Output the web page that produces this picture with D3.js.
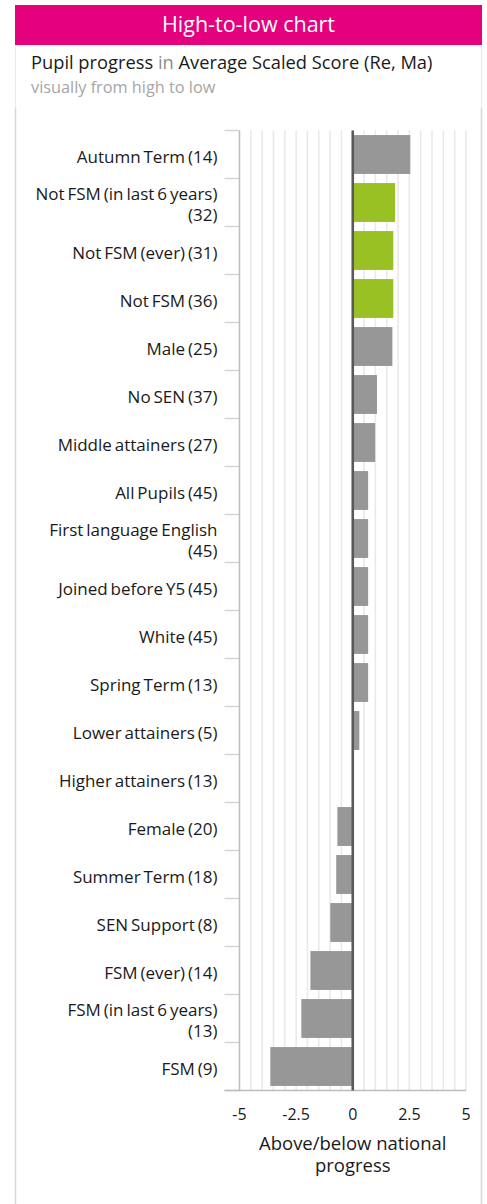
<!DOCTYPE html>
<html>
<head>
<meta charset="utf-8">
<script src="https://cdn.jsdelivr.net/npm/d3@7"></script>
<style>
    body { margin: 0; background: #fff; font-family: 'Open Sans', Lato, sans-serif; }
    .grid-line { stroke: #e8e8e8; stroke-width: 1.5; }
    .cat-tick { stroke: #d4d4d4; stroke-width: 1.5; }
    .axis-line { stroke: #bdbdbd; stroke-width: 1.5; }
    .zero-line { stroke: #595959; stroke-width: 2.6; }
    .cat-label { font-size: 17px; fill: #1a1a1a; word-spacing: -1.5px; }
    .tick-label { font-size: 16px; fill: #1a1a1a; }
    .axis-title { font-size: 18.5px; fill: #1a1a1a; }
</style>
</head>
<body>
<svg id="chart" width="487" height="1204"></svg>
<script>
const categories = [
    'Autumn Term', 'Not FSM (in last 6 years)', 'Not FSM (ever)', 'Not FSM', 'Male',
    'No SEN', 'Middle attainers', 'All Pupils', 'First language English', 'Joined before Y5',
    'White', 'Spring Term', 'Lower attainers', 'Higher attainers', 'Female',
    'Summer Term', 'SEN Support', 'FSM (ever)', 'FSM (in last 6 years)', 'FSM'
]
const counts = [14, 32, 31, 36, 25, 37, 27, 45, 45, 45, 45, 13, 5, 13, 20, 18, 8, 14, 13, 9]
const progress = [2.54, 1.87, 1.79, 1.79, 1.75, 1.07, 0.99, 0.68, 0.68, 0.68, 0.68, 0.68, 0.29, 0, -0.68, -0.73, -0.99, -1.87, -2.27, -3.64]
const highlighted = ['Not FSM (in last 6 years)', 'Not FSM (ever)', 'Not FSM']
const xTicks = [-5, -2.5, 0, 2.5, 5]
const xTickLabels = ['-5', '-2.5', '0', '2.5', '5']

const layout = { left: 239.5, top: 130.5, width: 226.5, height: 960 }
const data = categories.map((c, i) => ({ name: c, n: counts[i], value: progress[i] }))

const svg = d3.select('#chart')

// header panel + chart panel borders
svg.append('path')
    .attr('d', 'M 15.5 107.5 V 5.5 H 481.5 V 107.5')
    .attr('fill', 'none').attr('stroke', '#ebebeb').attr('stroke-width', 1.2)
svg.append('path')
    .attr('d', 'M 15.5 1210 V 107.5 M 481.5 107.5 V 1210')
    .attr('fill', 'none').attr('stroke', '#d8d8d8').attr('stroke-width', 1.5)
svg.append('rect')
    .attr('x', 15).attr('y', 5).attr('width', 467).attr('height', 40)
    .attr('fill', '#e5007d')
svg.append('text')
    .attr('x', 248.5).attr('y', 32)
    .attr('text-anchor', 'middle')
    .attr('fill', '#fff')
    .style('font-size', '21.5px')
    .text('High-to-low chart')

const sub = svg.append('text')
    .attr('x', 31).attr('y', 69)
    .style('font-size', '18.3px')
    .attr('fill', '#1a1a1a')
sub.append('tspan').text('Pupil progress ')
sub.append('tspan').attr('fill', '#8c8c8c').text('in ')
sub.append('tspan').text('Average Scaled Score (Re, Ma)')
svg.append('text')
    .attr('x', 31).attr('y', 93)
    .style('font-size', '16.3px')
    .attr('fill', '#a6a6a6')
    .text('visually from high to low')

const xScale = d3.scaleLinear().domain([-5, 5]).range([0, layout.width])
const yScale = d3.scaleBand().domain(categories).range([0, layout.height]).paddingInner(0.19).paddingOuter(0.095)

const g = svg.append('g')
    .attr('transform', 'translate(' + layout.left + ',' + layout.top + ')')

// vertical gridlines every 0.5
g.append('g').selectAll('.grid-line')
    .data(d3.range(-4.5, 5.01, 0.5))
    .enter()
    .append('path')
    .attr('class', 'grid-line')
    .attr('d', t => `M ${xScale(t)} 0 V ${layout.height}`)

// category separators
const step = layout.height / categories.length
g.append('g').selectAll('.cat-tick')
    .data(d3.range(0, categories.length + 1))
    .enter()
    .append('path')
    .attr('class', 'cat-tick')
    .attr('d', i => `M -15 ${i * step} H 0`)

g.append('path').attr('class', 'axis-line').attr('d', `M 0 0 V ${layout.height}`)
g.append('path').attr('class', 'axis-line').attr('d', `M -15 ${layout.height} H ${layout.width}`)

// bars
g.append('g').selectAll('.bar')
    .data(data)
    .enter()
    .append('rect')
    .attr('class', 'bar')
    .attr('x', d => xScale(Math.min(0, d.value)))
    .attr('y', d => yScale(d.name))
    .attr('width', d => Math.abs(xScale(d.value) - xScale(0)))
    .attr('height', yScale.bandwidth())
    .attr('fill', d => highlighted.includes(d.name) ? '#9ac123' : '#979797')

g.append('path').attr('class', 'zero-line').attr('d', `M ${xScale(0)} 0 V ${layout.height}`)

// category labels, wrapped when too long
const labelG = g.append('g')
data.forEach((d, i) => {
    const cy = i * step + step / 2 + 3
    const full = d.name + ' (' + d.n + ')'
    const t = labelG.append('text')
        .attr('class', 'cat-label')
        .attr('text-anchor', 'end')
        .attr('x', -22)
        .attr('y', cy)
        .attr('dy', '0.35em')
        .text(full)
    if (t.node().getComputedTextLength() > 172) {
        t.text(null)
        t.append('tspan').attr('x', -22).attr('y', cy - 11).attr('dy', '0.35em').text(d.name)
        t.append('tspan').attr('x', -22).attr('y', cy + 9.5).attr('dy', '0.35em').text('(' + d.n + ')')
    }
})

// x tick labels
g.append('g').selectAll('.tick-label')
    .data(xTicks)
    .enter()
    .append('text')
    .attr('class', 'tick-label')
    .attr('text-anchor', 'middle')
    .attr('x', t => xScale(t))
    .attr('y', layout.height + 29)
    .text((t, i) => xTickLabels[i])

const title = g.append('text')
    .attr('class', 'axis-title')
    .attr('text-anchor', 'middle')
title.append('tspan')
    .attr('x', xScale(0))
    .attr('y', layout.height + 59)
    .text('Above/below national')
title.append('tspan')
    .attr('x', xScale(0))
    .attr('y', layout.height + 81)
    .text('progress')
</script>
</body>
</html>
